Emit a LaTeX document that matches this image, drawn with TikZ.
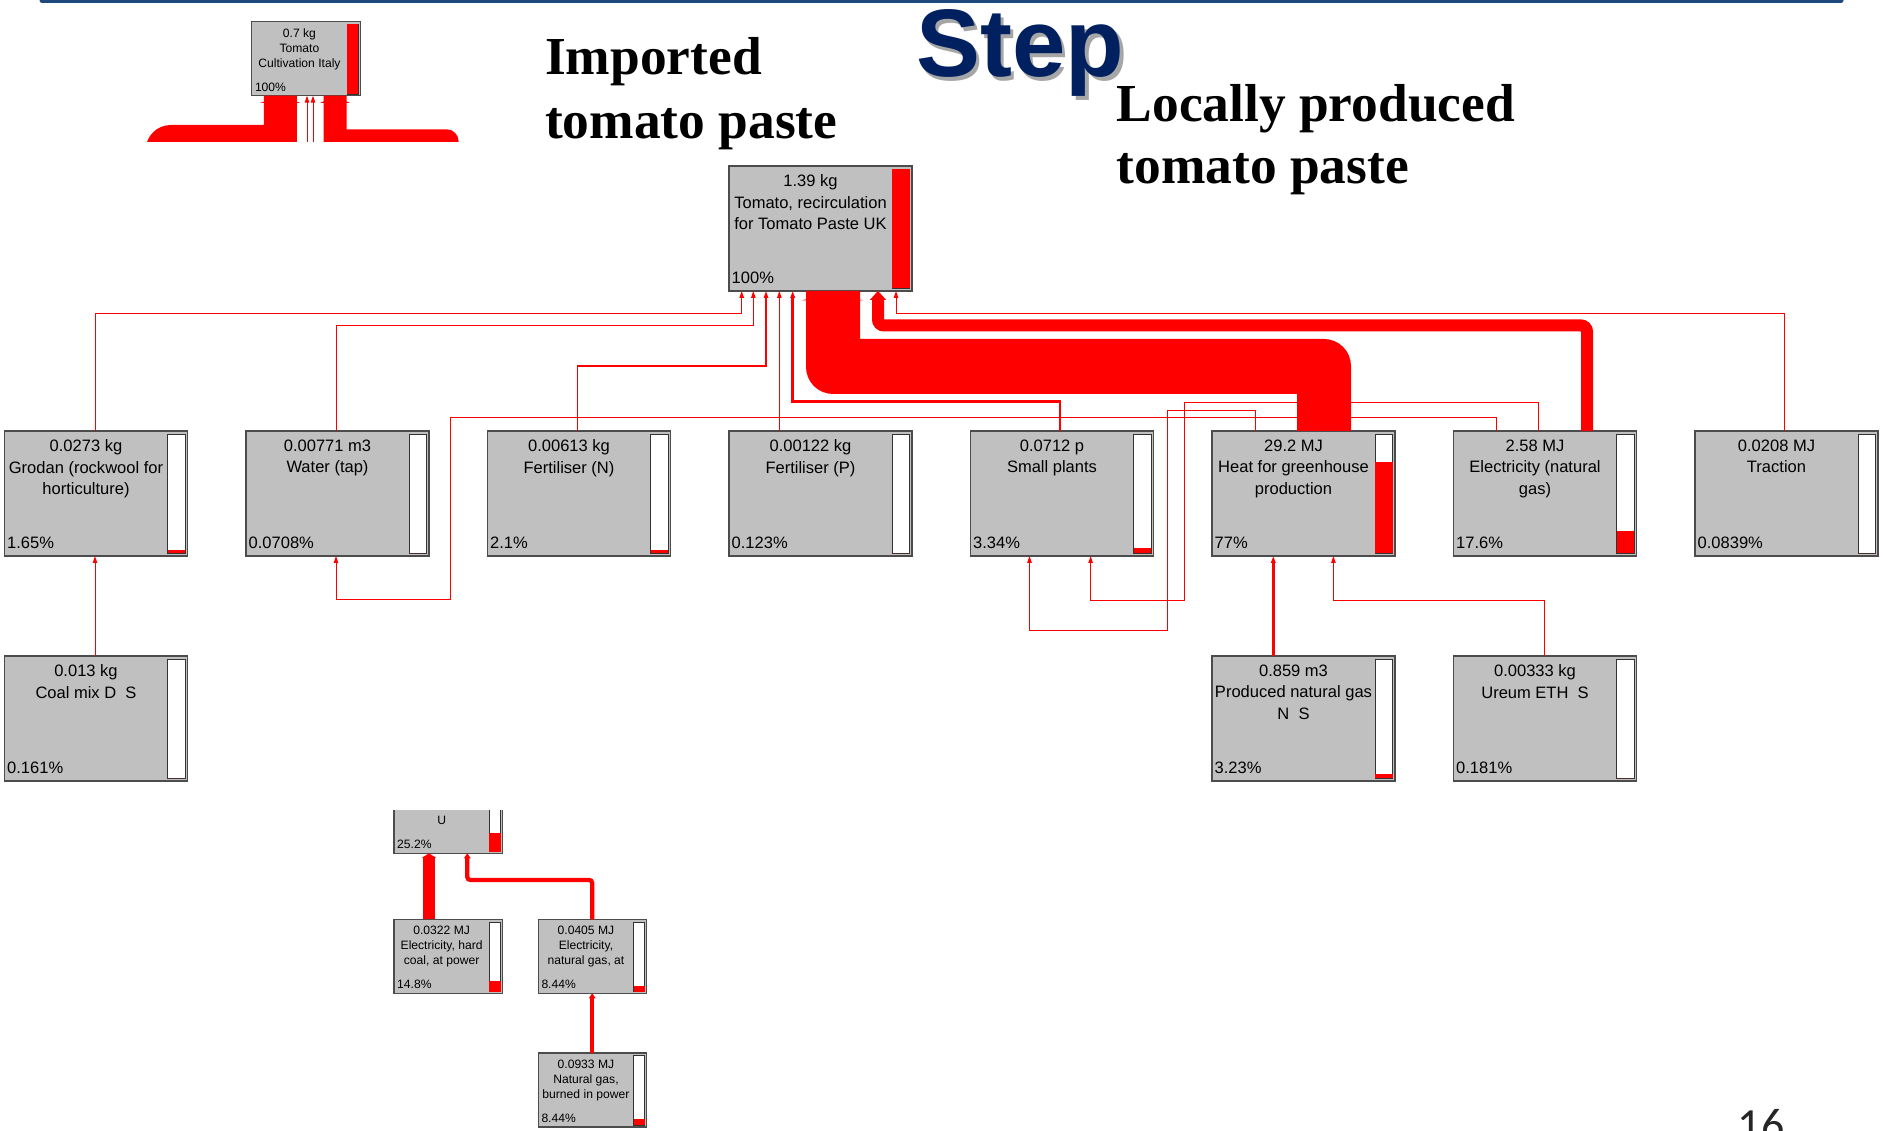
\documentclass[tikz,border=0pt]{standalone}
\usepackage{fontspec}
\usetikzlibrary{arrows.meta}
\newfontfamily\procsans{Liberation Sans}
\newfontfamily\headserif{Liberation Serif}
\newfontfamily\pagefont{Carlito}
\definecolor{stepblue}{RGB}{0,32,96}
\definecolor{topline}{RGB}{31,73,125}
\definecolor{boxgray}{RGB}{192,192,192}

\tikzset{
  procbox/.style={draw=black!70, line width=0.15mm, fill=boxgray, minimum width=18.3mm,
    minimum height=12.5mm, inner sep=0pt, outer sep=0pt},
  subproc/.style={procbox, line width=0.12mm, minimum width=10.85mm, minimum height=7.4mm},
  boxtext/.style={font=\procsans\fontsize{4.7pt}{6.15pt}\selectfont, align=center, inner sep=0pt},
  subtext/.style={font=\procsans\fontsize{3.45pt}{4.2pt}\selectfont, align=center, inner sep=0pt},
  barframe/.style={draw=black!80, fill=white, line width=0.08mm},
  flow/.style={draw=red, line width=#1, -{Triangle[width=0.45mm,length=0.7mm]}},
  flow/.default=0.1mm,
  heading/.style={font=\headserif\bfseries\fontsize{15.2pt}{18pt}\selectfont, inner sep=0pt},
  steptext/.style={font=\procsans\bfseries\fontsize{27.3pt}{30pt}\selectfont, inner sep=0pt},
}

% process box: name, left, top, text, share, red height
\newcommand{\procbox}[6]{%
  \node[procbox, anchor=north west] (#1) at (#2,#3) {};
  \node[boxtext, anchor=north] (#1-txt) at ([xshift=-1mm,yshift=-0.8mm]#1.north) {#4};
  \node[boxtext, anchor=base west] (#1-pct) at ([xshift=0.2mm,yshift=0.7mm]#1.south west) {#5};
  \draw[barframe] ([xshift=-2mm,yshift=-0.3mm]#1.north east) rectangle ([xshift=-0.23mm,yshift=0.3mm]#1.south east);
  \fill[red] ([xshift=-2mm,yshift=0.3mm]#1.south east) rectangle ([xshift=-0.23mm,yshift={(0.3+0.1*#6)*1mm}]#1.south east);
}
% small process box (cut-outs)
\newcommand{\subbox}[6]{%
  \node[subproc, anchor=north west] (#1) at (#2,#3) {};
  \node[subtext, anchor=north] (#1-txt) at ([xshift=-0.66mm,yshift=-0.64mm]#1.north) {#4};
  \node[subtext, anchor=base west] (#1-pct) at ([xshift=0.25mm,yshift=0.45mm]#1.south west) {#5};
  \draw[barframe] ([xshift=-1.33mm,yshift=-0.27mm]#1.north east) rectangle ([xshift=-0.2mm,yshift=0.17mm]#1.south east);
  \fill[red] ([xshift=-1.33mm,yshift=0.17mm]#1.south east) rectangle ([xshift=-0.2mm,yshift={(0.17+0.1*#6)*1mm}]#1.south east);
}

\begin{document}
\begin{tikzpicture}[x=0.1mm, y=-0.1mm]
  \useasboundingbox (0,0) rectangle (1883,1131);
  \draw[topline, line width=0.5mm, line cap=round] (42,0.3) -- (1841,0.3);

  \node[steptext, text=black!35, anchor=base west] (stepshade) at (919,80.5) {Step};
  \node[steptext, text=stepblue, anchor=base west] (step) at (915.5,77) {Step};
  \node[heading, anchor=base west] (imp1) at (544.5,75) {Imported};
  \node[heading, anchor=base west] (imp2) at (544.5,138.3) {tomato paste};
  \node[heading, anchor=base west] (loc1) at (1116,122) {Locally produced};
  \node[heading, anchor=base west] (loc2) at (1116,184) {tomato paste};

  % imported cut-out
  \subbox{italy}{251.8}{21.7}{0.7 kg\\Tomato\\Cultivation Italy}{100\%}{69.6}
  \begin{scope}
    \clip (0,0) rectangle (1883,141.7);
    \fill[red] (italy.south -| 263.8,0) -- (263.8,125) -- (170.7,125)
      .. controls (156.9,125) and (145.7,136.2) .. (145.7,150) -- (145.7,160)
      -- (296.8,160) -- (italy.south -| 296.8,0) -- cycle;
    \fill[red] (italy.south -| 323.7,0) -- (323.7,160) -- (458.6,160) -- (458.6,141.3)
      .. controls (458.6,134.7) and (453.2,129.3) .. (446.6,129.3)
      -- (346.5,129.3) -- (italy.south -| 346.5,0) -- cycle;
    \fill[red] (260,103) -- (280.3,96.2) -- (300.5,103) -- cycle;
    \fill[red] (320,103) -- (335.1,96.2) -- (350,103) -- cycle;
    \draw[flow] (307,160) -- (italy.south -| 307,0);
    \draw[flow] (313,160) -- (italy.south -| 313,0);
  \end{scope}

  % process tree
  \procbox{main}{729}{166}{1.39 kg\\Tomato, recirculation\\for Tomato Paste UK}{100\%}{119}
  \procbox{grodan}{4.5}{431}{0.0273 kg\\Grodan (rockwool for\\horticulture)}{1.65\%}{2.7}
  \procbox{water}{246}{431}{0.00771 m3\\Water (tap)}{0.0708\%}{0}
  \procbox{fertn}{487.5}{431}{0.00613 kg\\Fertiliser (N)}{2.1\%}{3}
  \procbox{fertp}{729}{431}{0.00122 kg\\Fertiliser (P)}{0.123\%}{0}
  \procbox{plants}{970.5}{431}{0.0712 p\\Small plants}{3.34\%}{5}
  \procbox{heat}{1212}{431}{29.2 MJ\\Heat for greenhouse\\production}{77\%}{91}
  \procbox{elec}{1453.5}{431}{2.58 MJ\\Electricity (natural\\gas)}{17.6\%}{22}
  \procbox{traction}{1695}{431}{0.0208 MJ\\Traction}{0.0839\%}{0}
  \procbox{coal}{4.5}{656}{0.013 kg\\Coal mix D\ \ S}{0.161\%}{0}
  \procbox{png}{1212}{656}{0.859 m3\\Produced natural gas\\N\ \ S}{3.23\%}{4.5}
  \procbox{ureum}{1453.5}{656}{0.00333 kg\\Ureum ETH\ \ S}{0.181\%}{0}

  % flows into main
  \draw[flow] (grodan.north -| 95,0) |- (741.7,313.3) -- (main.south -| 741.7,0);
  \draw[flow] (water.north -| 336,0) |- (753.3,326) -- (main.south -| 753.3,0);
  \draw[flow=0.15mm] (fertn.north -| 577.7,0) |- (766,366) -- (main.south -| 766,0);
  \draw[flow] (fertp.north -| 779.3,0) -- (main.south -| 779.3,0);
  \draw[flow=0.25mm] (plants.north -| 1060,0) |- (792.7,401.7) -- (main.south -| 792.7,0);
  \draw[flow] (traction.north -| 1784.5,0) |- (896,313.3) -- (main.south -| 896,0);
  \draw[red, line width=1.2mm, rounded corners=0.6mm, -{Triangle[width=1.6mm,length=0.9mm]}]
    (elec.north -| 1587,0) |- (878,325.5) -- (main.south -| 878,0);
  \fill[red] (heat.north -| 1297,0) -- (1297,394) -- (833,394)
    .. controls (818.1,394) and (806,381.9) .. (806,367) -- (main.south -| 806,0)
    -- (main.south -| 860,0) -- (860,339) -- (1324,339)
    .. controls (1338.9,339) and (1351,351.1) .. (1351,366) -- (heat.north -| 1351,0) -- cycle;
  \fill[red] (801.7,300.5) -- (833,292) -- (863.3,300.5) -- cycle;

  % flows between the inputs
  \draw[flow] (elec.north -| 1496.6,0) |- (450,417.7) |- (336,599.5) -- (water.south -| 336,0);
  \draw[flow] (elec.north -| 1538.3,0) |- (1184.4,402.7) |- (1090.6,600) -- (plants.south -| 1090.6,0);
  \draw[flow] (heat.north -| 1255,0) |- (1167.4,410.7) |- (1029.5,630) -- (plants.south -| 1029.5,0);
  \draw[flow] (coal.north -| 95,0) -- (grodan.south -| 95,0);
  \draw[flow=0.3mm] (png.north -| 1273.3,0) -- (heat.south -| 1273.3,0);
  \draw[flow] (ureum.north -| 1544.3,0) |- (1333.4,600) -- (heat.south -| 1333.4,0);

  % electricity cut-out
  \begin{scope}
    \clip (380,810) rectangle (520,870);
    \subbox{egrid}{394}{779.3}{\phantom{0}\\\phantom{E}\\U}{25.2\%}{18.3}
  \end{scope}
  \subbox{ecoal}{394}{919.3}{0.0322 MJ\\Electricity, hard\\coal, at power}{14.8\%}{10.5}
  \subbox{egas}{538.3}{919.3}{0.0405 MJ\\Electricity,\\natural gas, at}{8.44\%}{6}
  \subbox{ngas}{538.3}{1053}{0.0933 MJ\\Natural gas,\\burned in power}{8.44\%}{6}
  \draw[red, line width=1.2mm, -{Triangle[width=1.4mm,length=0.45mm]}]
    (ecoal.north -| 429,0) -- (egrid.south -| 429,0);
  \draw[red, line width=0.43mm, rounded corners=0.3mm, -{Triangle[width=0.65mm,length=0.5mm]}]
    (egas.north -| 592.2,0) |- (467.3,880) -- (egrid.south -| 467.3,0);
  \draw[red, line width=0.43mm, -{Triangle[width=0.65mm,length=0.5mm]}]
    (ngas.north -| 592.2,0) -- (egas.south -| 592.2,0);

  \node[font=\pagefont\fontsize{13.1pt}{15pt}\selectfont, text=black!85, inner sep=0pt, anchor=base west] (pagenum) at (1737,1140) {16};
\end{tikzpicture}
\end{document}
